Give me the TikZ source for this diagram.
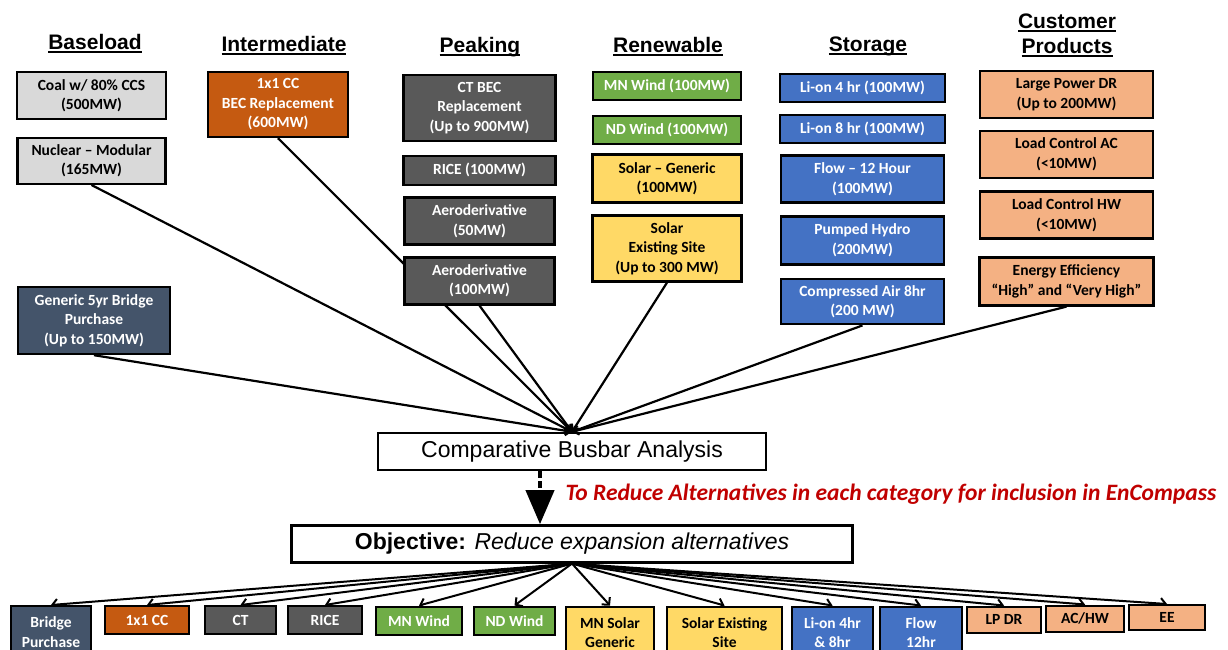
\documentclass[tikz,border=0pt]{standalone}
\usepackage{fontspec}
\setmainfont{Carlito}
\newfontfamily\arialfont{Liberation Sans}
\usepackage{xcolor}
\usepackage{tikz}
\usetikzlibrary{positioning,arrows.meta,backgrounds}

\definecolor{BaseGray}{HTML}{D9D9D9}
\definecolor{CCOrange}{HTML}{C55A11}
\definecolor{PeakGray}{HTML}{595959}
\definecolor{WindGreen}{HTML}{70AD47}
\definecolor{SolarYellow}{HTML}{FFD966}
\definecolor{StoreBlue}{HTML}{4472C4}
\definecolor{CustOrange}{HTML}{F4B183}
\definecolor{BridgeSlate}{HTML}{44546A}
\definecolor{NoteRed}{HTML}{C00000}

\newsavebox\hdbox
\newcommand\headul[1]{\sbox\hdbox{#1}\rlap{\rule[-3pt]{\wd\hdbox}{1.8pt}}\usebox\hdbox}

\begin{document}
\begin{tikzpicture}[x=1pt, y=-1pt,
      opt/.style={rectangle, draw=black, line width=2.4pt, align=center, inner sep=1pt,
        font=\fontsize{15.5}{19.5}\selectfont\bfseries},
      baseopt/.style={opt, fill=BaseGray, text=black},
      interopt/.style={opt, fill=CCOrange, text=white},
      peakopt/.style={opt, fill=PeakGray, text=white},
      windopt/.style={opt, fill=WindGreen, text=white},
      solaropt/.style={opt, fill=SolarYellow, text=black},
      storeopt/.style={opt, fill=StoreBlue, text=white},
      custopt/.style={opt, fill=CustOrange, text=black},
      bridgeopt/.style={opt, fill=BridgeSlate, text=white},
      cat/.style={font=\arialfont\fontsize{21}{25}\selectfont\bfseries, align=center, anchor=base},
      stage/.style={rectangle, draw=black, line width=2.4pt, font=\arialfont\fontsize{23}{26}\selectfont},
      feed/.style={line width=2.2pt, ->, >={Straight Barb[length=5pt, width=9pt]}},
      pick/.style={line width=2pt, ->, >={Straight Barb[length=5pt, width=11pt]}},
    ]
    \useasboundingbox (0,0) rectangle (1228,650);

    % Headings
    \node[cat] (baseload) at (95,50) {\headul{Baseload}};
    \node[cat] (intermediate) at (284,52) {\headul{Intermediate}};
    \node[cat] (peaking) at (480,53) {\headul{Peaking}};
    \node[cat] (renewable) at (668,53) {\headul{Renewable}};
    \node[cat] (storage) at (868,52) {\headul{Storage}};
    \node[cat] (customer) at (1067,54) {\headul{Customer}\\\headul{Products}};

    % Baseload
    \node[baseopt, minimum width=149pt, minimum height=47pt] (coal) at (91.5,95.5) {Coal w/ 80\% CCS\\(500MW)};
    \node[baseopt, minimum width=148pt, minimum height=46pt] (nuclear) [below=16.4pt of coal] {Nuclear \textendash{} Modular\\(165MW)};
    \node[bridgeopt, minimum width=152pt, minimum height=67pt] (bridge) at (94,320.5) {Generic 5yr Bridge\\Purchase\\(Up to 150MW)};

    % Intermediate
    \node[interopt, minimum width=140pt, minimum height=65pt] (cc) at (278,104.5) {1x1 CC\\BEC Replacement\\(600MW)};

    % Peaking
    \node[peakopt, minimum width=152pt, minimum height=66pt] (ctbec) at (479.5,108) {CT BEC\\Replacement\\(Up to 900MW)};
    \node[peakopt, minimum width=152pt, minimum height=29pt] (rice) [below=12.4pt of ctbec] {RICE (100MW)};
    \node[peakopt, minimum width=150pt, minimum height=47pt] (aerofifty) [below=10.4pt of rice] {Aeroderivative\\(50MW)};
    \node[peakopt, minimum width=150pt, minimum height=47pt] (aerohund) [below=10.4pt of aerofifty] {Aeroderivative\\(100MW)};

    % Renewable
    \node[windopt, minimum width=148pt, minimum height=28pt] (mnwind) at (667,86) {MN Wind (100MW)};
    \node[windopt, minimum width=148pt, minimum height=28pt] (ndwind) [below=13.4pt of mnwind] {ND Wind (100MW)};
    \node[solaropt, minimum width=149pt, minimum height=48pt] (solargen) [below=8.4pt of ndwind] {Solar \textendash{} Generic\\(100MW)};
    \node[solaropt, minimum width=149pt, minimum height=66pt] (solarsite) [below=10.4pt of solargen] {Solar\\Existing Site\\(Up to 300 MW)};

    % Storage
    \node[storeopt, minimum width=165pt, minimum height=28pt] (lifour) at (862.5,88) {Li-on 4 hr (100MW)};
    \node[storeopt, minimum width=165pt, minimum height=28pt] (lieight) [below=10.4pt of lifour] {Li-on 8 hr (100MW)};
    \node[storeopt, minimum width=163pt, minimum height=47pt] (flow) [below=10.4pt of lieight] {Flow \textendash{} 12 Hour\\(100MW)};
    \node[storeopt, minimum width=163pt, minimum height=48pt] (pumped) [below=11.4pt of flow] {Pumped Hydro\\(200MW)};
    \node[storeopt, minimum width=163pt, minimum height=45pt] (compair) [below=12.4pt of pumped] {Compressed Air 8hr\\(200 MW)};

    % Customer products
    \node[custopt, minimum width=173pt, minimum height=47pt] (lpdr) at (1066.5,94.5) {Large Power DR\\(Up to 200MW)};
    \node[custopt, minimum width=173pt, minimum height=47pt] (lcac) [below=10.4pt of lpdr] {Load Control AC\\(<10MW)};
    \node[custopt, minimum width=173pt, minimum height=47pt] (lchw) [below=11.4pt of lcac] {Load Control HW\\(<10MW)};
    \node[custopt, minimum width=174pt, minimum height=48pt] (effic) [below=16.4pt of lchw] {Energy Efficiency\\``High'' and ``Very High''};

    % Screening
    \node[stage, minimum width=388pt, minimum height=37pt] (busbar) at (572,451.5) {Comparative Busbar Analysis};
    \node[stage, minimum width=561pt, minimum height=37pt] (objective) [below=53pt of busbar] {\textbf{Objective:} \textit{Reduce expansion alternatives}};
    \coordinate (drop) at ([xshift=-32pt]busbar.south);
    \node[anchor=west, text=NoteRed, font=\fontsize{23.5}{27}\selectfont\bfseries\itshape] (note) at (562,494) {To Reduce Alternatives in each category for inclusion in EnCompass};

    % Short list
    \node[bridgeopt, anchor=north, minimum width=80pt, minimum height=52pt] (bridgeb) at (51,605) {Bridge\\Purchase};
    \node[interopt, anchor=north, minimum width=84pt, minimum height=28pt] (ccb) at (147,605) {1x1 CC};
    \node[peakopt, anchor=north, minimum width=71pt, minimum height=28pt] (ctb) at (240.5,605) {CT};
    \node[peakopt, anchor=north, minimum width=74pt, minimum height=28pt] (riceb) at (325,605) {RICE};
    \node[windopt, anchor=north, minimum width=86pt, minimum height=28pt] (mnwindb) at (419,605.5) {MN Wind};
    \node[windopt, anchor=north, minimum width=81pt, minimum height=28pt] (ndwindb) at (514.5,605.5) {ND Wind};
    \node[solaropt, anchor=north, minimum width=88pt, minimum height=52pt] (mnsolarb) at (610,605.5) {MN Solar\\Generic};
    \node[solaropt, anchor=north, minimum width=115pt, minimum height=52pt] (solarsiteb) at (724.5,605.5) {Solar Existing\\Site};
    \node[storeopt, anchor=north, minimum width=81pt, minimum height=52pt] (lionb) at (832.5,605.5) {Li-on 4hr\\\& 8hr};
    \node[storeopt, anchor=north, minimum width=82pt, minimum height=52pt] (flowb) at (921,605.5) {Flow\\12hr};
    \node[custopt, anchor=north, minimum width=74pt, minimum height=26pt] (lpdrb) at (1004,605.5) {LP DR};
    \node[custopt, anchor=north, minimum width=78pt, minimum height=26pt] (achwb) at (1085,604.5) {AC/HW};
    \node[custopt, anchor=north, minimum width=76pt, minimum height=25pt] (eeb) at (1167,604) {EE};

    % Arrows
    \begin{scope}[on background layer]
      \draw[feed] (nuclear.south) -- (busbar.north);
      \draw[feed] (cc.south) -- (busbar.north);
      \draw[feed] (aerohund.south) -- (busbar.north);
      \draw[feed] (bridge.south) -- (busbar.north);
      \draw[feed] (solarsite.south) -- (busbar.north);
      \draw[feed] (compair.south) -- (busbar.north);
      \draw[feed] (effic.south) -- (busbar.north);

      \draw[pick] (objective.south) -- (bridgeb.north);
      \draw[pick] (objective.south) -- (ccb.north);
      \draw[pick] (objective.south) -- (ctb.north);
      \draw[pick] (objective.south) -- (riceb.north);
      \draw[pick] (objective.south) -- (mnwindb.north);
      \draw[pick] (objective.south) -- (ndwindb.north);
      \draw[pick] (objective.south) -- (mnsolarb.north);
      \draw[pick] (objective.south) -- (solarsiteb.north);
      \draw[pick] (objective.south) -- (lionb.north);
      \draw[pick] (objective.south) -- (flowb.north);
      \draw[pick] (objective.south) -- (lpdrb.north);
      \draw[pick] (objective.south) -- (achwb.north);
      \draw[pick] (objective.south) -- (eeb.north);
    \end{scope}
    \draw[line width=4pt, dash pattern=on 7pt off 3pt, -{Triangle[length=34pt, width=28pt]}] (drop) -- (drop |- objective.north);
  \end{tikzpicture}
\end{document}
